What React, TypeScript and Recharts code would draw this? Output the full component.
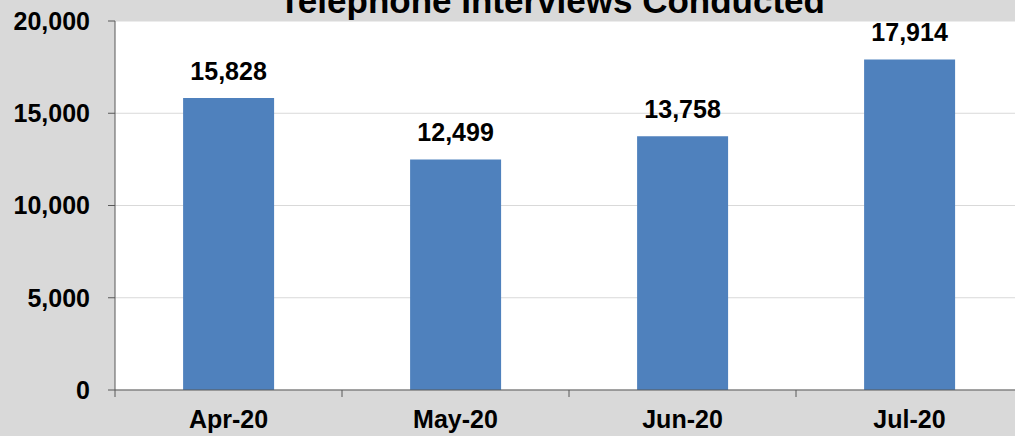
import React from 'react';
import { Bar, BarChart, CartesianGrid, LabelList, XAxis, YAxis } from 'recharts';

const months = ['Apr-20', 'May-20', 'Jun-20', 'Jul-20'];
const interviews = [15828, 12499, 13758, 17914];
const yTicks = [0, 5000, 10000, 15000, 20000];

const data = months.map((month, i) => ({ month, interviews: interviews[i] }));

const AXIS = '#595959';
const fmt = (v: number) => v.toLocaleString('en-US');

// category ticks sit between the bars, not under them
const MonthTick = (props: any) => {
  const { x, y, payload } = props;
  const half = payload && payload.offset ? payload.offset : 113.5;
  return (
    <g>
      <line x1={x - half} y1={y} x2={x - half} y2={y + 7} stroke={AXIS} strokeWidth={1} />
      <text x={x} y={y + 38} textAnchor="middle" fill="#000" fontSize={25} fontWeight="bold">
        {payload.value}
      </text>
    </g>
  );
};

const ValueLabel = (props: any) => {
  const { x, y, width, value } = props;
  return (
    <text x={Number(x) + Number(width) / 2} y={Number(y) - 18} textAnchor="middle" fill="#000" fontSize={25} fontWeight="bold">
      {fmt(Number(value))}
    </text>
  );
};

const App = () => {
  return (
    <div
      style={{
        position: 'absolute',
        left: 0,
        top: 0,
        width: 1015,
        height: 436,
        overflow: 'hidden',
        background: '#d9d9d9',
        fontFamily: '"Liberation Sans", Arial, sans-serif',
      }}
    >
      <BarChart
        width={1030}
        height={436}
        data={data}
        margin={{ top: 21, right: 7, bottom: 0, left: 0 }}
        barCategoryGap="30%"
      >
        <CartesianGrid vertical={false} stroke="#d9d9d9" fill="#ffffff" />
        <XAxis
          dataKey="month"
          height={46}
          axisLine={{ stroke: AXIS }}
          tickLine={false}
          tickSize={0}
          tickMargin={0}
          interval={0}
          tick={<MonthTick />}
        />
        <YAxis
          width={115}
          domain={[0, 20000]}
          ticks={yTicks}
          tickFormatter={fmt}
          axisLine={{ stroke: AXIS }}
          tickLine={{ stroke: AXIS }}
          tickSize={7}
          tickMargin={18}
          tick={{ fill: '#000', fontSize: 25, fontWeight: 'bold' }}
        />
        <Bar dataKey="interviews" fill="#4f81bd" isAnimationActive={false}>
          <LabelList dataKey="interviews" content={<ValueLabel />} />
        </Bar>
      </BarChart>
      <div
        style={{
          position: 'absolute',
          left: 552,
          top: -17,
          transform: 'translateX(-50%)',
          whiteSpace: 'nowrap',
          fontSize: 35,
          lineHeight: '35px',
          fontWeight: 'bold',
          color: '#000',
        }}
      >
        Telephone Interviews Conducted
      </div>
    </div>
  );
};

export default App;
